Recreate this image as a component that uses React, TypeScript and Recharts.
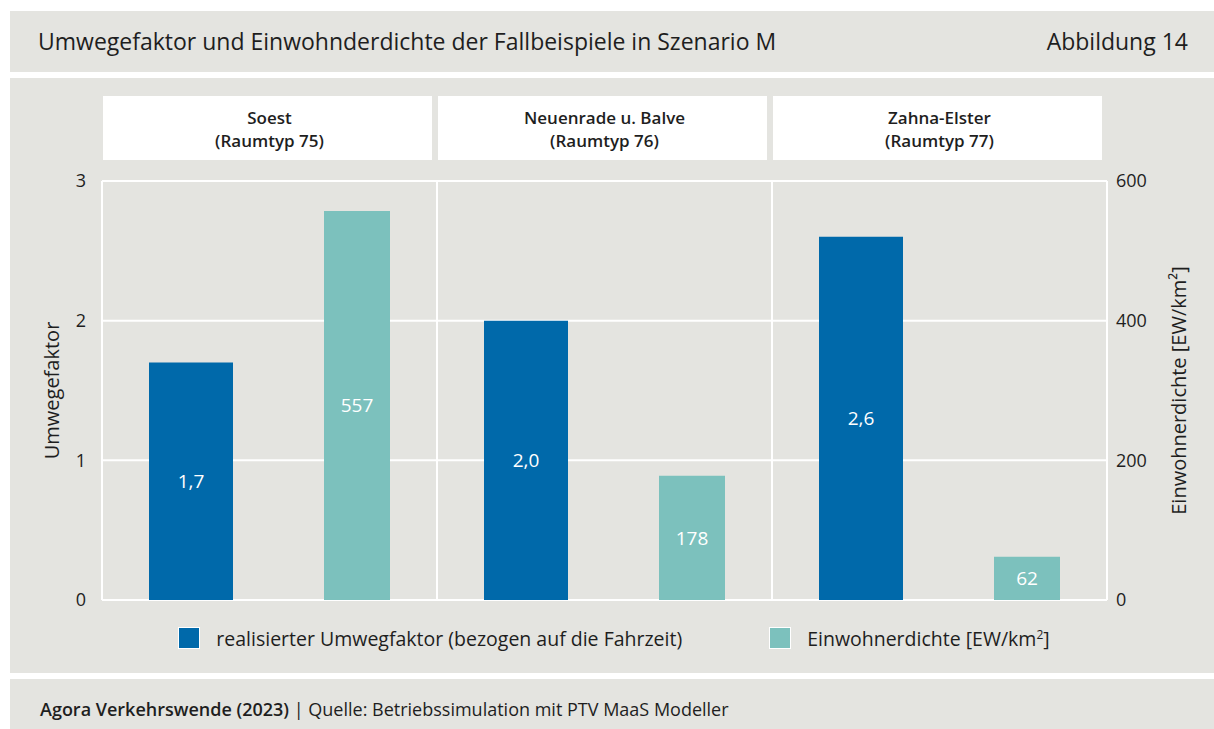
import { BarChart, Bar, XAxis, YAxis, CartesianGrid, Legend, LabelList } from 'recharts'

const places = ['Soest', 'Neuenrade u. Balve', 'Zahna-Elster']
const raumtyp = ['Raumtyp 75', 'Raumtyp 76', 'Raumtyp 77']
const umwegfaktor = [1.7, 2.0, 2.6]
const einwohnerdichte = [557, 178, 62]
const leftTicks = [0, 1, 2, 3]
const rightTicks = [0, 200, 400, 600]

const data = places.map((p, i) => ({
  place: p,
  umweg: umwegfaktor[i],
  dichte: einwohnerdichte[i],
}))

const BLUE = '#0069aa'
const TEAL = '#7cc1bd'
const GRAY = '#e4e4e0'
const TEXT = '#1e1e1e'
const FONT = '"Open Sans", sans-serif'

const CHART_W = 1214
const CHART_H = 594
const LEFT_W = 102
const RIGHT_W = 107
const PLOT_W = CHART_W - LEFT_W - RIGHT_W

function HeaderTick(props: any) {
  const { x, y, payload } = props
  const i = payload.index
  const bw = PLOT_W / places.length
  return (
    <g>
      <rect x={x - bw / 2 + 1} y={y - 85} width={bw - 6} height={64} fill="#fff" />
      <text x={x} y={y - 57} textAnchor="middle" fontSize={17} fontWeight={600} fill={TEXT} fontFamily={FONT}>
        {places[i]}
      </text>
      <text x={x} y={y - 34} textAnchor="middle" fontSize={17} fontWeight={600} fill={TEXT} fontFamily={FONT}>
        ({raumtyp[i]})
      </text>
    </g>
  )
}

function AxisTitle({ viewBox, value, cx }: any) {
  const cy = viewBox.y + viewBox.height / 2
  return (
    <text
      x={cx}
      y={cy}
      transform={`rotate(-90, ${cx}, ${cy})`}
      textAnchor="middle"
      dominantBaseline="central"
      fontSize={20}
      fill={TEXT}
      fontFamily={FONT}
    >
      {value}
    </text>
  )
}

function LegendContent() {
  const item = (color: string, label: React.ReactNode) => (
    <div style={{ display: 'flex', alignItems: 'center' }}>
      <div style={{ width: 20, height: 20, background: color, border: '1px solid #fff', marginRight: 16 }} />
      <span style={{ fontSize: 19.5, color: TEXT, fontFamily: FONT }}>{label}</span>
    </div>
  )
  return (
    <div
      style={{
        height: 58,
        boxSizing: 'border-box',
        paddingTop: 18,
        paddingLeft: 14,
        display: 'flex',
        justifyContent: 'center',
        alignItems: 'center',
        gap: 87,
      }}
    >
      {item(BLUE, 'realisierter Umwegfaktor (bezogen auf die Fahrzeit)')}
      {item(TEAL, <>Einwohnerdichte [EW/km<sup style={{ fontSize: 12 }}>2</sup>]</>)}
    </div>
  )
}

const fmtUmweg = (v: any) => Number(v).toFixed(1).replace('.', ',')

export default function App() {
  return (
    <div style={{ position: 'absolute', left: 0, top: 0, width: 1214, height: 729, background: '#fff', fontFamily: FONT }}>
      <div
        style={{
          position: 'absolute', left: 10, top: 11, width: 1204, height: 61, background: GRAY,
          display: 'flex', alignItems: 'center', justifyContent: 'space-between',
          padding: '0 26px 2px 28px', boxSizing: 'border-box', fontSize: 23, color: TEXT,
        }}
      >
        <span>Umwegefaktor und Einwohnderdichte der Fallbeispiele in Szenario M</span>
        <span>Abbildung 14</span>
      </div>

      <div style={{ position: 'absolute', left: 10, top: 78, width: 1204, height: 595, background: GRAY }} />
      <div style={{ position: 'absolute', left: 0, top: 78 }}>
        <BarChart
          width={CHART_W}
          height={CHART_H}
          data={data}
          margin={{ top: 18, right: 0, bottom: 14, left: 0 }}
          barGap={91}
        >
          <CartesianGrid
            xAxisId="cases"
            yAxisId="left"
            stroke="#fff"
            strokeWidth={2}
            verticalCoordinatesGenerator={({ offset }: any) =>
              [0, 1, 2, 3].map((k) => offset.left + (k * offset.width) / places.length)
            }
          />
          <XAxis
            xAxisId="cases"
            dataKey="place"
            orientation="top"
            height={85}
            axisLine={false}
            tickLine={false}
            tickSize={0}
            tickMargin={0}
            interval={0}
            tick={<HeaderTick />}
          />
          <YAxis
            yAxisId="left"
            orientation="left"
            width={LEFT_W}
            domain={[0, 3]}
            ticks={leftTicks}
            axisLine={false}
            tickLine={false}
            tickSize={0}
            tickMargin={16}
            tick={{ fontSize: 18, fill: TEXT, fontFamily: FONT }}
            label={<AxisTitle value="Umwegefaktor" cx={51} />}
          />
          <YAxis
            yAxisId="right"
            orientation="right"
            width={RIGHT_W}
            domain={[0, 600]}
            ticks={rightTicks}
            axisLine={false}
            tickLine={false}
            tickSize={0}
            tickMargin={9}
            tick={{ fontSize: 18, fill: TEXT, fontFamily: FONT, textAnchor: 'start' }}
            label={<AxisTitle value="Einwohnerdichte [EW/km²]" cx={1178} />}
          />
          <Legend verticalAlign="bottom" height={58} content={<LegendContent />} />
          <Bar xAxisId="cases" yAxisId="left" dataKey="umweg" fill={BLUE} barSize={84} isAnimationActive={false}>
            <LabelList dataKey="umweg" position="center" fill="#fff" fontSize={19} fontFamily={FONT} formatter={fmtUmweg} />
          </Bar>
          <Bar xAxisId="cases" yAxisId="right" dataKey="dichte" fill={TEAL} barSize={66} isAnimationActive={false}>
            <LabelList dataKey="dichte" position="center" fill="#fff" fontSize={19} fontFamily={FONT} />
          </Bar>
        </BarChart>
      </div>

      <div
        style={{
          position: 'absolute', left: 10, top: 679, width: 1204, height: 50, background: GRAY,
          display: 'flex', alignItems: 'center', paddingLeft: 30, paddingTop: 10, boxSizing: 'border-box',
          fontSize: 18, color: TEXT,
        }}
      >
        <span>
          <span style={{ fontWeight: 600 }}>Agora Verkehrswende (2023)</span> | Quelle: Betriebssimulation mit PTV MaaS Modeller
        </span>
      </div>
    </div>
  )
}
